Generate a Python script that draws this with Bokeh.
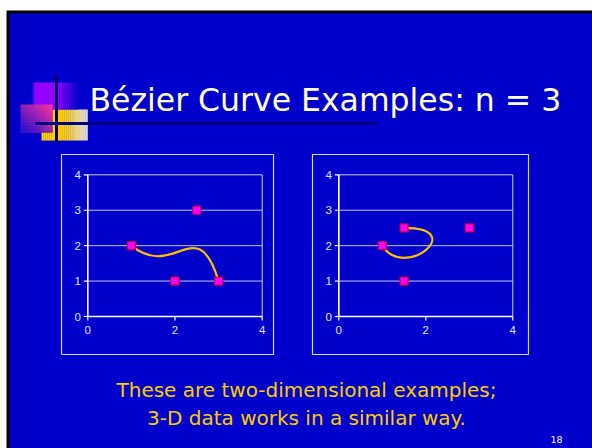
import numpy as np
from bokeh.plotting import figure
from bokeh.models import Range1d
from bokeh.core.properties import value
from bokeh.embed import file_html
from bokeh.resources import INLINE

# ---- chart data -------------------------------------------------------
# control points of the two cubic Bezier curves (P0, P1, P2, P3)
left_ctrl_x = [1, 2, 2.5, 3]
left_ctrl_y = [2, 1, 3, 1]
right_ctrl_x = [1, 1.5, 3, 1.5]
right_ctrl_y = [2, 1, 2.5, 2.5]

x_ticks = [0, 2, 4]
y_ticks = [0, 1, 2, 3, 4]
grid_levels = [1, 2, 3]
axis_max = 4

title_text = "Bézier Curve Examples: n = 3"
caption_lines = ["These are two-dimensional examples;", "3-D data works in a similar way."]
slide_number = "18"

# ---- page geometry (screen pixels, y measured from the top) ------------
W, H = 592, 448
SLIDE_BLUE = "#0000CC"
TEXT_FONT = value("DejaVu Sans")
CHART_FONT = value("Liberation Sans")

p = figure(width=W, height=H, x_range=Range1d(0, W), y_range=Range1d(H, 0),
           output_backend="svg", toolbar_location=None,
           x_axis_type=None, y_axis_type=None, min_border=0)
p.grid.visible = False
p.outline_line_color = None
p.background_fill_color = "white"
p.border_fill_color = "white"

# slide background with its dark edge
p.quad(left=[6], right=[W + 5], top=[10], bottom=[H + 5], fill_color="#000000", line_color=None)
p.quad(left=[9], right=[W + 5], top=[13], bottom=[H + 5], fill_color=SLIDE_BLUE, line_color=None)


def mix(c1, c2, t):
    a = np.array([int(c1[i:i + 2], 16) for i in (1, 3, 5)], float)
    b = np.array([int(c2[i:i + 2], 16) for i in (1, 3, 5)], float)
    c = a + (b - a) * t
    return "#%02x%02x%02x" % tuple(int(round(v)) for v in c)


def h_gradient(x0, x1, y0, y1, c_left, c_right, solid_until, n=24):
    """Horizontal fade made from thin strips."""
    edges = np.linspace(x0, x1, n + 1)
    lefts, rights, colors = [], [], []
    for a, b in zip(edges[:-1], edges[1:]):
        mid = (a + b) / 2
        t = 0.0 if mid <= solid_until else (mid - solid_until) / (x1 - solid_until)
        lefts.append(a)
        rights.append(b + 0.3)
        colors.append(mix(c_left, c_right, min(max(t, 0), 1)))
    p.quad(left=lefts, right=rights, top=[y0] * n, bottom=[y1] * n,
           fill_color=colors, line_color=None)


# title ornament: overlapping fading squares and two dark rules
h_gradient(41, 87, 109, 140, "#FFCC00", "#D8D8E8", 62)
h_gradient(33, 78, 82, 109, "#9900FF", SLIDE_BLUE, 56)

# pink square fading diagonally towards blue
nx, ny = 10, 9
xs = np.linspace(20, 52, nx + 1)
ys = np.linspace(104, 132, ny + 1)
L, R, T, B, C = [], [], [], [], []
for i in range(nx):
    for j in range(ny):
        u = (i + 0.5) / nx          # 0 left -> 1 right
        v = (j + 0.5) / ny          # 0 top -> 1 bottom
        t = min(max((1 - u) * 0.55 + v * 0.55, 0), 1)
        L.append(xs[i]); R.append(xs[i + 1] + 0.3)
        T.append(ys[j]); B.append(ys[j + 1] + 0.3)
        C.append(mix("#FF3399", "#3311CC", t))
p.quad(left=L, right=R, top=T, bottom=B, fill_color=C, line_color=None)

p.segment(x0=[56], y0=[74], x1=[56], y1=[143], line_color="#000066", line_width=3)
p.segment(x0=[35], y0=[123], x1=[378], y1=[123], line_color="#000080", line_width=3)

# title
p.text(x=[89], y=[99.5], text=[title_text], text_color="#FFFFCC",
       text_font=TEXT_FONT, text_font_size="31.5px", text_baseline="alphabetic",
       text_align="left")

# ---- the two charts ------------------------------------------------------
panels = [
    dict(name="left", box=(61, 154, 273, 354), px=(87.3, 261.7), py=(316.0, 174.3),
         cx=left_ctrl_x, cy=left_ctrl_y),
    dict(name="right", box=(312, 154, 528, 354), px=(338.3, 512.3), py=(316.0, 174.3),
         cx=right_ctrl_x, cy=right_ctrl_y),
]

for pn in panels:
    bx0, by0, bx1, by1 = pn["box"]
    p.quad(left=[bx0], right=[bx1], top=[by0], bottom=[by1],
           fill_color=None, line_color="#D8D8F0", line_width=1.2)

    px0, px1 = pn["px"]
    py0, py1 = pn["py"]
    sx = (px1 - px0) / axis_max
    sy = (py0 - py1) / axis_max
    xr, yr = pn["name"] + "_x", pn["name"] + "_y"
    p.extra_x_ranges[xr] = Range1d(-px0 / sx, (W - px0) / sx)
    p.extra_y_ranges[yr] = Range1d((py0 - H) / sy, py0 / sy)
    kw = dict(x_range_name=xr, y_range_name=yr)

    # horizontal gridlines and the plot-area frame
    p.segment(x0=[0] * len(grid_levels), y0=grid_levels,
              x1=[axis_max] * len(grid_levels), y1=grid_levels,
              line_color="#C4C4E4", line_width=1, **kw)
    p.segment(x0=[0, axis_max], y0=[axis_max, 0], x1=[axis_max, axis_max],
              y1=[axis_max, axis_max], line_color="#D0D0EC", line_width=1, **kw)

    # axes and tick marks
    p.segment(x0=[0, 0], y0=[0, 0], x1=[axis_max, 0], y1=[0, axis_max],
              line_color="white", line_width=1.6, **kw)
    tx = 4 / sx
    ty = 4 / sy
    p.segment(x0=[0] * len(y_ticks), y0=y_ticks, x1=[-tx] * len(y_ticks), y1=y_ticks,
              line_color="white", line_width=1.2, **kw)
    p.segment(x0=x_ticks, y0=[0] * len(x_ticks), x1=x_ticks, y1=[-ty] * len(x_ticks),
              line_color="white", line_width=1.2, **kw)

    # tick labels
    p.text(x=[0] * len(y_ticks), y=y_ticks, text=[str(t) for t in y_ticks],
           x_offset=-7, text_align="right", text_baseline="middle",
           text_color="#E4E4F4", text_font=CHART_FONT, text_font_size="11.5px", **kw)
    p.text(x=x_ticks, y=[0] * len(x_ticks), text=[str(t) for t in x_ticks],
           y_offset=9, text_align="center", text_baseline="top",
           text_color="#E4E4F4", text_font=CHART_FONT, text_font_size="11.5px", **kw)

    # the Bezier curve from its control polygon, then the control points
    cx, cy = pn["cx"], pn["cy"]
    p.bezier(x0=[cx[0]], y0=[cy[0]], x1=[cx[3]], y1=[cy[3]],
             cx0=[cx[1]], cy0=[cy[1]], cx1=[cx[2]], cy1=[cy[2]],
             line_color="#FFC000", line_width=2.2, **kw)
    p.scatter(x=cx, y=cy, marker="square", size=8, fill_color="#FF00FF",
              line_color="#CC0033", line_width=1.2, **kw)

# ---- caption and slide number --------------------------------------------
p.text(x=[306, 306], y=[389, 417], text=caption_lines, text_color="#FFCC00",
       text_font=TEXT_FONT, text_font_size="20px", text_align="center",
       text_baseline="alphabetic")
p.text(x=[562], y=[439], text=[slide_number], text_color="white",
       text_font=TEXT_FONT, text_font_size="9.5px", text_align="right",
       text_baseline="alphabetic")

open("out.html", "w").write(file_html(p, INLINE))
